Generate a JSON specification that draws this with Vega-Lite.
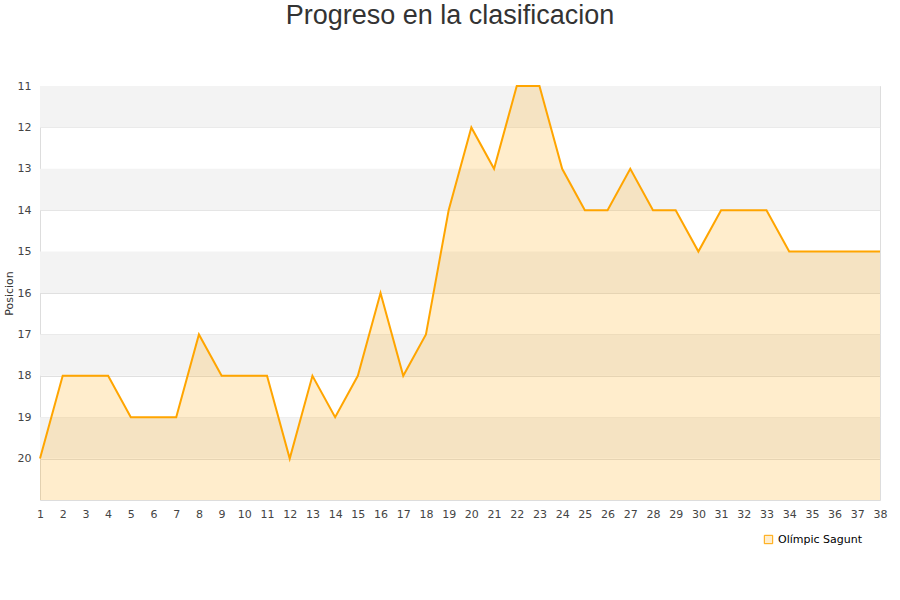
{
  "$schema": "https://vega.github.io/schema/vega-lite/v6.json",
  "autosize": {"type": "none"},
  "width": 840,
  "height": 414,
  "padding": {"left": 40, "top": 86, "right": 20, "bottom": 100},
  "background": "white",
  "config": {
    "view": {"stroke": "#dddddd"},
    "font": "DejaVu Sans",
    "axis": {"labelOverlap": false, "labelFlush": false, "ticks": false, "domain": false, "labelSeparation": 0}
  },
  "title": {
    "text": "Progreso en la clasificacion",
    "font": "Liberation Sans",
    "fontSize": 27,
    "fontWeight": "normal",
    "color": "#333333",
    "anchor": "middle",
    "offset": 50,
    "dx": -10
  },
  "datasets": {
    "bands": [
      {"b": 11, "e": 12},
      {"b": 13, "e": 14},
      {"b": 15, "e": 16},
      {"b": 17, "e": 18},
      {"b": 19, "e": 20}
    ],
    "pos": [
      {"jornada": 1, "posicion": 20, "equipo": "Olímpic Sagunt"},
      {"jornada": 2, "posicion": 18, "equipo": "Olímpic Sagunt"},
      {"jornada": 3, "posicion": 18, "equipo": "Olímpic Sagunt"},
      {"jornada": 4, "posicion": 18, "equipo": "Olímpic Sagunt"},
      {"jornada": 5, "posicion": 19, "equipo": "Olímpic Sagunt"},
      {"jornada": 6, "posicion": 19, "equipo": "Olímpic Sagunt"},
      {"jornada": 7, "posicion": 19, "equipo": "Olímpic Sagunt"},
      {"jornada": 8, "posicion": 17, "equipo": "Olímpic Sagunt"},
      {"jornada": 9, "posicion": 18, "equipo": "Olímpic Sagunt"},
      {"jornada": 10, "posicion": 18, "equipo": "Olímpic Sagunt"},
      {"jornada": 11, "posicion": 18, "equipo": "Olímpic Sagunt"},
      {"jornada": 12, "posicion": 20, "equipo": "Olímpic Sagunt"},
      {"jornada": 13, "posicion": 18, "equipo": "Olímpic Sagunt"},
      {"jornada": 14, "posicion": 19, "equipo": "Olímpic Sagunt"},
      {"jornada": 15, "posicion": 18, "equipo": "Olímpic Sagunt"},
      {"jornada": 16, "posicion": 16, "equipo": "Olímpic Sagunt"},
      {"jornada": 17, "posicion": 18, "equipo": "Olímpic Sagunt"},
      {"jornada": 18, "posicion": 17, "equipo": "Olímpic Sagunt"},
      {"jornada": 19, "posicion": 14, "equipo": "Olímpic Sagunt"},
      {"jornada": 20, "posicion": 12, "equipo": "Olímpic Sagunt"},
      {"jornada": 21, "posicion": 13, "equipo": "Olímpic Sagunt"},
      {"jornada": 22, "posicion": 11, "equipo": "Olímpic Sagunt"},
      {"jornada": 23, "posicion": 11, "equipo": "Olímpic Sagunt"},
      {"jornada": 24, "posicion": 13, "equipo": "Olímpic Sagunt"},
      {"jornada": 25, "posicion": 14, "equipo": "Olímpic Sagunt"},
      {"jornada": 26, "posicion": 14, "equipo": "Olímpic Sagunt"},
      {"jornada": 27, "posicion": 13, "equipo": "Olímpic Sagunt"},
      {"jornada": 28, "posicion": 14, "equipo": "Olímpic Sagunt"},
      {"jornada": 29, "posicion": 14, "equipo": "Olímpic Sagunt"},
      {"jornada": 30, "posicion": 15, "equipo": "Olímpic Sagunt"},
      {"jornada": 31, "posicion": 14, "equipo": "Olímpic Sagunt"},
      {"jornada": 32, "posicion": 14, "equipo": "Olímpic Sagunt"},
      {"jornada": 33, "posicion": 14, "equipo": "Olímpic Sagunt"},
      {"jornada": 34, "posicion": 15, "equipo": "Olímpic Sagunt"},
      {"jornada": 35, "posicion": 15, "equipo": "Olímpic Sagunt"},
      {"jornada": 36, "posicion": 15, "equipo": "Olímpic Sagunt"},
      {"jornada": 37, "posicion": 15, "equipo": "Olímpic Sagunt"},
      {"jornada": 38, "posicion": 15, "equipo": "Olímpic Sagunt"}
    ]
  },
  "layer": [
    {
      "data": {"name": "bands"},
      "mark": {"type": "rect", "color": "#f3f3f3"},
      "encoding": {
        "y": {"field": "b", "type": "quantitative", "scale": {"domain": [11, 21], "reverse": true, "nice": false, "zero": false}},
        "y2": {"field": "e"}
      }
    },
    {
      "data": {"name": "pos"},
      "mark": {"type": "area", "color": "#FFA500", "opacity": 0.2},
      "encoding": {
        "x": {
          "field": "jornada",
          "type": "quantitative",
          "scale": {"domain": [1, 38], "nice": false, "zero": false},
          "axis": {
            "title": null,
            "values": [1,2,3,4,5,6,7,8,9,10,11,12,13,14,15,16,17,18,19,20,21,22,23,24,25,26,27,28,29,30,31,32,33,34,35,36,37,38],
            "grid": false,
            "labelFontSize": 11,
            "labelColor": "#444444",
            "labelPadding": 8,
            "labelOverlap": false
          }
        },
        "y": {"field": "posicion", "type": "quantitative"},
        "y2": {"datum": 21}
      }
    },
    {
      "data": {"name": "pos"},
      "mark": {"type": "line", "strokeWidth": 2},
      "encoding": {
        "x": {
          "field": "jornada",
          "type": "quantitative",
          "axis": {
            "title": null,
            "values": [1,2,3,4,5,6,7,8,9,10,11,12,13,14,15,16,17,18,19,20,21,22,23,24,25,26,27,28,29,30,31,32,33,34,35,36,37,38],
            "grid": false,
            "labelFontSize": 11,
            "labelColor": "#444444",
            "labelPadding": 8,
            "labelOverlap": false
          }
        },
        "y": {
          "field": "posicion",
          "type": "quantitative",
          "axis": {
            "title": "Posicion",
            "titleFontSize": 11,
            "titleFontWeight": "normal",
            "titleColor": "#333333",
            "titlePadding": 3,
            "values": [11,12,13,14,15,16,17,18,19,20],
            "grid": true,
            "gridColor": "#e0e0e0",
            "labelFontSize": 11,
            "labelColor": "#444444",
            "labelPadding": 9
          }
        },
        "color": {
          "field": "equipo",
          "type": "nominal",
          "scale": {"range": ["#FFA500"]},
          "legend": {
            "title": null,
            "orient": "none",
            "legendX": 723,
            "legendY": 448,
            "symbolType": "square",
            "symbolSize": 70,
            "labelFontSize": 11,
            "labelColor": "#000000",
            "encode": {
              "symbols": {"update": {"fill": {"value": "#FFEDCC"}, "stroke": {"value": "#FFA500"}, "strokeWidth": {"value": 1}}}
            }
          }
        }
      }
    }
  ]
}
